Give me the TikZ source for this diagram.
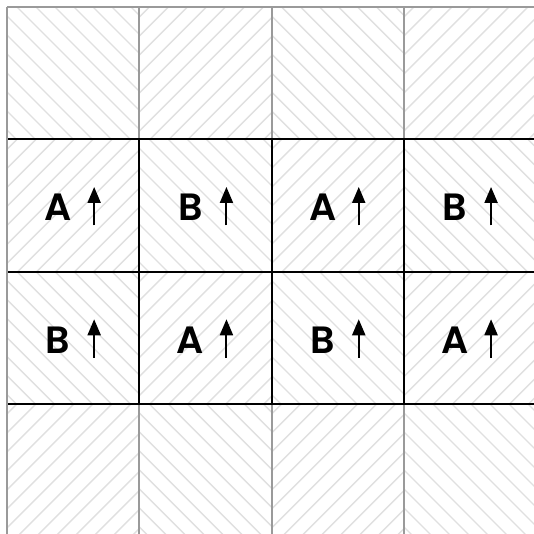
\documentclass[tikz,border=0pt]{standalone}
\usepackage{fontspec}
\setmainfont{Poppins}[BoldFont={Poppins SemiBold}]
\usetikzlibrary{arrows.meta}
\definecolor{hatchc}{HTML}{E0E0E0}
\definecolor{gridgray}{HTML}{9A9A9A}
\tikzset{
  hatch/.style={draw=hatchc,line width=1.4pt},
  thingrid/.style={draw=gridgray,line width=2pt},
  boldgrid/.style={draw=black,line width=2pt},
  lbl/.style={font=\fontsize{38}{38}\selectfont\bfseries, inner sep=0pt, anchor=center},
  uparrow/.style={-{Triangle[length=16pt,width=13pt]}, line width=2pt}
}
\begin{document}
\begin{tikzpicture}[x=1pt,y=-1pt]
\useasboundingbox (0,0) rectangle (534,534);
\fill[white] (0,0) rectangle (534,534);
% hatching
\foreach \r in {0,...,3}{\foreach \c in {0,...,3}{
  \pgfmathsetmacro{\xo}{7+132.3*\c}
  \pgfmathsetmacro{\yo}{7+132.3*\r}
  \pgfmathtruncatemacro{\parity}{mod(\r+\c,2)}
  \begin{scope}
    \clip (\xo,\yo) rectangle ++(132.3,132.3);
    \ifnum\parity=0
      \foreach \t in {-123,-104,...,150}{\draw[hatch] (\xo+\t,\yo) -- ++(145,145);}
    \else
      \foreach \t in {-9,10,...,290}{\draw[hatch] (\xo+\t,\yo) -- ++(-145,145);}
    \fi
  \end{scope}
}}
% grid corners
\foreach \i in {0,...,4}{
  \pgfmathsetmacro{\p}{7+132.3*\i}
  \coordinate (v\i t) at (\p,7);
  \coordinate (v\i a) at (\p,139.3);
  \coordinate (v\i b) at (\p,403.9);
  \coordinate (v\i e) at (\p,540);
  \coordinate (h\i l) at (7,\p);
  \coordinate (h\i r) at (540,\p);
}
% black lines
\foreach \i in {1,2,3}{\draw[boldgrid] (h\i l) -- (h\i r);}
\foreach \i in {1,2,3}{\draw[boldgrid] (v\i a) -- (v\i b);}
% gray lines
\draw[thingrid] (h0l) -- (h0r);
\draw[thingrid] (v0t) -- (v0e);
\foreach \i in {1,2,3}{
  \draw[thingrid] (v\i t) -- ([yshift=1pt]v\i a);
  \draw[thingrid] ([yshift=-1pt]v\i b) -- (v\i e);
}
% labels and arrows
\foreach \r/\c/\s in {1/0/A,1/1/B,1/2/A,1/3/B,2/0/B,2/1/A,2/2/B,2/3/A}{
  \pgfmathsetmacro{\cx}{7+132.3*(\c+0.5)}
  \pgfmathsetmacro{\cy}{7+132.3*(\r+0.5)}
  \node[lbl] (L\r\c) at (\cx-15,\cy+2) {\s};
  \coordinate (a\r\c s) at (\cx+21,\cy+20);
  \coordinate (a\r\c e) at (\cx+21,\cy-18.5);
  \draw[uparrow] (a\r\c s) -- (a\r\c e);
}
\end{tikzpicture}
\end{document}
